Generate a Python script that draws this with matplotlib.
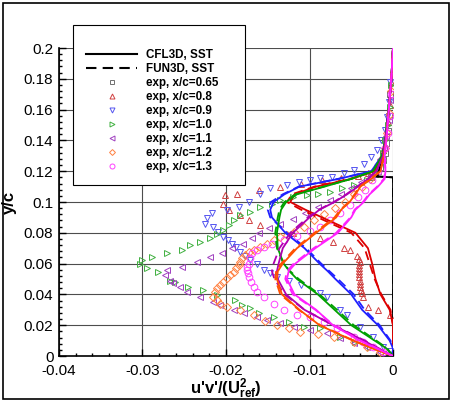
import matplotlib
matplotlib.use("Agg")
import matplotlib.pyplot as plt
from matplotlib.patches import Rectangle
from matplotlib.ticker import MultipleLocator

plt.rcParams['font.family'] = ['Liberation Sans', 'DejaVu Sans']
plt.rcParams['mathtext.fontset'] = 'custom'
plt.rcParams['mathtext.rm'] = 'Liberation Sans:bold'
plt.rcParams['mathtext.it'] = 'Liberation Sans:bold'
plt.rcParams['mathtext.bf'] = 'Liberation Sans:bold'

# ---- computed profiles (shared y stations) ----
y_line = [0, 0.005, 0.01, 0.02, 0.03, 0.04, 0.05, 0.055, 0.06, 0.07, 0.08, 0.09,
          0.095, 0.10, 0.105, 0.11, 0.115, 0.12, 0.13, 0.14, 0.16, 0.18, 0.2]

y_black = [0, 0.1160, 0.1166, 0.12, 0.13, 0.14, 0.16, 0.18, 0.2]
cfl_065 = [0, 0, -0.0020, -0.0017, -0.0012, -0.0009, -0.0005, -0.0002, 0]
fun_065 = [0, 0, -0.0019, -0.0016, -0.0012, -0.0009, -0.0005, -0.0002, 0]

cfl_08 = [0, 0, 0, 0, -0.0004, -0.0015, -0.0021, -0.0023, -0.0025, -0.0030, -0.0045, -0.0085,
          -0.0105, -0.0123, -0.0118, -0.0092, -0.0050, -0.0022, -0.0013, -0.0009, -0.0005, -0.0002, 0]
fun_08 = [0, 0, 0, 0, -0.0003, -0.0014, -0.0022, -0.0025, -0.0028, -0.0034, -0.0050, -0.0090,
          -0.0110, -0.0127, -0.0121, -0.0094, -0.0052, -0.0023, -0.0013, -0.0009, -0.0005, -0.0002, 0]
cfl_09 = [0, 0, -0.0004, -0.0018, -0.0037, -0.0050, -0.0069, -0.0078, -0.0088, -0.0106, -0.0129, -0.0145,
          -0.0147, -0.0143, -0.0130, -0.0112, -0.0065, -0.0026, -0.0013, -0.0009, -0.0005, -0.0002, 0]
fun_09 = [0, 0, -0.0003, -0.0016, -0.0034, -0.0047, -0.0066, -0.0076, -0.0086, -0.0104, -0.0127, -0.0147,
          -0.0150, -0.0146, -0.0132, -0.0113, -0.0066, -0.0026, -0.0013, -0.0009, -0.0005, -0.0002, 0]
cfl_10 = [0, -0.0008, -0.0022, -0.0050, -0.0070, -0.0090, -0.0115, -0.0124, -0.0131, -0.0138, -0.0139, -0.0136,
          -0.0134, -0.0128, -0.0115, -0.0082, -0.0050, -0.0024, -0.0013, -0.0009, -0.0005, -0.0002, 0]
fun_10 = [0, -0.0007, -0.0020, -0.0047, -0.0067, -0.0088, -0.0113, -0.0123, -0.0131, -0.0139, -0.0141, -0.0138,
          -0.0136, -0.0130, -0.0117, -0.0083, -0.0050, -0.0024, -0.0013, -0.0009, -0.0005, -0.0002, 0]
cfl_11 = [0, -0.0018, -0.0035, -0.0072, -0.0106, -0.0128, -0.0138, -0.0139, -0.0137, -0.0132, -0.0120, -0.0100,
          -0.0088, -0.0070, -0.0055, -0.0042, -0.0030, -0.0020, -0.0012, -0.0009, -0.0005, -0.0002, 0]
fun_11 = [0, -0.0017, -0.0034, -0.0071, -0.0106, -0.0130, -0.0142, -0.0145, -0.0143, -0.0136, -0.0123, -0.0102,
          -0.0089, -0.0071, -0.0056, -0.0043, -0.0030, -0.0020, -0.0012, -0.0009, -0.0005, -0.0002, 0]
cfl_12 = [0, -0.0025, -0.0048, -0.0088, -0.0112, -0.0133, -0.0139, -0.0138, -0.0132, -0.0115, -0.0092, -0.0068,
          -0.0062, -0.0052, -0.0045, -0.0039, -0.0026, -0.0015, -0.0011, -0.0008, -0.0005, -0.0002, 0]
fun_12 = [0, -0.0024, -0.0047, -0.0087, -0.0113, -0.0135, -0.0141, -0.0140, -0.0134, -0.0117, -0.0094, -0.0070,
          -0.0063, -0.0053, -0.0046, -0.0040, -0.0027, -0.0015, -0.0011, -0.0008, -0.0005, -0.0002, 0]
cfl_13 = [0, -0.0020, -0.0040, -0.0072, -0.0092, -0.0118, -0.0127, -0.0125, -0.0117, -0.0093, -0.0066, -0.0050,
          -0.0045, -0.0035, -0.0028, -0.0018, -0.0010, -0.0009, -0.0010, -0.0008, -0.0005, -0.0002, 0]
fun_13 = [0, -0.0019, -0.0039, -0.0071, -0.0093, -0.0120, -0.0129, -0.0127, -0.0119, -0.0095, -0.0068, -0.0051,
          -0.0046, -0.0036, -0.0029, -0.0019, -0.0011, -0.0009, -0.0010, -0.0008, -0.0005, -0.0002, 0]

# ---- experiment ----
exp065_x = [-0.0026, -0.0022, -0.0018, -0.0015, -0.0012, -0.0010, -0.0008, -0.0006, -0.0005, -0.0003]
exp065_y = [0.116, 0.118, 0.120, 0.123, 0.127, 0.132, 0.138, 0.146, 0.156, 0.170]

exp08_x = [-0.0004, -0.0018, -0.0030, -0.0036, -0.0037, -0.0038, -0.0039, -0.0040, -0.0040, -0.0041,
           -0.0041, -0.0041, -0.0041, -0.0041, -0.0040, -0.0041, -0.0043, -0.0051, -0.0059, -0.0072,
           -0.0087, -0.0120, -0.0159, -0.0173, -0.0183, -0.0197, -0.0203, -0.0201, -0.0187, -0.0161,
           -0.0135, -0.0110, -0.0085, -0.0062, -0.0042, -0.0030, -0.0022, -0.0016, -0.0012, -0.0009,
           -0.0006, -0.0004, -0.0002]
exp08_y = [0.0266, 0.030, 0.032, 0.0385, 0.041, 0.043, 0.045, 0.047, 0.049, 0.051,
           0.053, 0.055, 0.057, 0.059, 0.061, 0.063, 0.065, 0.0688, 0.070, 0.074,
           0.0764, 0.080, 0.085, 0.088, 0.0915, 0.0948, 0.099, 0.1045, 0.1055, 0.1077,
           0.110, 0.112, 0.114, 0.1155, 0.117, 0.119, 0.123, 0.128, 0.134, 0.142,
           0.152, 0.163, 0.178]

exp09_x = [-0.0004, -0.0012, -0.0024, -0.0039, -0.0055, -0.0063, -0.0079, -0.0087, -0.0110, -0.0125,
           -0.0139, -0.0147, -0.0155, -0.0163, -0.0171, -0.0177, -0.0183, -0.0188, -0.0193, -0.0198,
           -0.0203, -0.0209, -0.0215, -0.0225, -0.0223, -0.0217, -0.0199, -0.0185, -0.0173, -0.0159,
           -0.0147, -0.0127, -0.0113, -0.0100, -0.0087, -0.0073, -0.0059, -0.0047, -0.0035, -0.0026,
           -0.0019, -0.0014, -0.0010, -0.0007, -0.0005, -0.0003]
exp09_y = [0.003, 0.006, 0.0125, 0.019, 0.0266, 0.030, 0.0385, 0.0407, 0.046, 0.049,
           0.0515, 0.0537, 0.0558, 0.060, 0.0623, 0.065, 0.0677, 0.0705, 0.073, 0.0753,
           0.0775, 0.0807, 0.084, 0.086, 0.0893, 0.0926, 0.0948, 0.097, 0.100, 0.1055,
           0.1088, 0.111, 0.1131, 0.1142, 0.1153, 0.1164, 0.1186, 0.1207, 0.125, 0.129,
           0.134, 0.140, 0.147, 0.155, 0.165, 0.178]

exp10_x = [-0.0012, -0.0028, -0.0045, -0.0063, -0.0087, -0.0107, -0.0125, -0.0143, -0.0160, -0.0171,
           -0.0181, -0.0189, -0.0211, -0.0227, -0.0245, -0.0261, -0.0267, -0.0281, -0.0295, -0.0303,
           -0.0301, -0.0289, -0.0271, -0.0253, -0.0243, -0.0231, -0.0219, -0.0211, -0.0203, -0.0197,
           -0.0191, -0.0183, -0.0171, -0.0159, -0.0145, -0.0135, -0.0120, -0.0103, -0.0090, -0.0075,
           -0.0061, -0.0047, -0.0031, -0.0022, -0.0016, -0.0012, -0.0009, -0.0006, -0.0004, -0.0002]
exp10_y = [0.0028, 0.006, 0.009, 0.0125, 0.0179, 0.019, 0.022, 0.0255, 0.028, 0.031,
           0.033, 0.0363, 0.0396, 0.0428, 0.045, 0.0482, 0.049, 0.0547, 0.0569, 0.060,
           0.0623, 0.0645, 0.0666, 0.0688, 0.072, 0.074, 0.0764, 0.079, 0.0818, 0.085,
           0.088, 0.0915, 0.0937, 0.097, 0.099, 0.101, 0.103, 0.1045, 0.1055, 0.1066,
           0.109, 0.111, 0.114, 0.119, 0.125, 0.132, 0.140, 0.150, 0.162, 0.176]

exp11_x = [-0.0016, -0.0031, -0.0047, -0.0063, -0.0079, -0.0099, -0.0119, -0.0135, -0.0151, -0.0163,
           -0.0179, -0.0191, -0.0207, -0.0215, -0.0231, -0.0247, -0.0255, -0.0263, -0.0267, -0.0273,
           -0.0271, -0.0253, -0.0235, -0.0219, -0.0205, -0.0193, -0.0180, -0.0169, -0.0160, -0.0148,
           -0.0135, -0.0120, -0.0105, -0.0090, -0.0075, -0.0062, -0.0050, -0.0038, -0.0028, -0.0020,
           -0.0015, -0.0011, -0.0008, -0.0005, -0.0003]
exp11_y = [0.0028, 0.006, 0.0082, 0.0115, 0.0147, 0.0169, 0.019, 0.0212, 0.0234, 0.0255,
           0.0277, 0.0298, 0.0331, 0.0352, 0.0385, 0.0417, 0.045, 0.0472, 0.049, 0.0526,
           0.0558, 0.058, 0.0612, 0.0645, 0.0666, 0.070, 0.0725, 0.0764, 0.080, 0.083,
           0.086, 0.089, 0.093, 0.097, 0.101, 0.105, 0.109, 0.113, 0.117, 0.122,
           0.128, 0.135, 0.143, 0.153, 0.166]

exp12_x = [-0.0016, -0.0031, -0.0047, -0.0071, -0.0090, -0.0111, -0.0125, -0.0139, -0.0153, -0.0167,
           -0.0183, -0.0199, -0.0207, -0.0211, -0.0215, -0.0213, -0.0211, -0.0207, -0.0203, -0.0199,
           -0.0195, -0.0191, -0.0188, -0.0185, -0.0183, -0.0181, -0.0177, -0.0173, -0.0166, -0.0159,
           -0.0151, -0.0143, -0.0135, -0.0127, -0.0119, -0.0107, -0.0095, -0.0083, -0.0070, -0.0058,
           -0.0047, -0.0037, -0.0028, -0.0020, -0.0014, -0.0010, -0.0007, -0.0004, -0.0002]
exp12_y = [0.0028, 0.006, 0.0093, 0.0125, 0.014, 0.0158, 0.018, 0.0201, 0.023, 0.0266,
           0.0298, 0.032, 0.034, 0.0363, 0.0385, 0.0417, 0.0439, 0.0461, 0.048, 0.0504,
           0.0525, 0.0547, 0.057, 0.059, 0.061, 0.0634, 0.0655, 0.0677, 0.069, 0.071,
           0.073, 0.0753, 0.077, 0.0785, 0.0807, 0.084, 0.088, 0.092, 0.096, 0.100,
           0.105, 0.110, 0.115, 0.120, 0.127, 0.135, 0.145, 0.157, 0.172]

exp13_x = [-0.0012, -0.0024, -0.0036, -0.0047, -0.0067, -0.0083, -0.0099, -0.0115, -0.0131, -0.0143,
           -0.0155, -0.0163, -0.0167, -0.0170, -0.0172, -0.0174, -0.0175, -0.0175, -0.0173, -0.0171,
           -0.0169, -0.0163, -0.0155, -0.0145, -0.0130, -0.0115, -0.0100, -0.0087, -0.0075, -0.0063,
           -0.0052, -0.0042, -0.0033, -0.0025, -0.0018, -0.0013, -0.0009, -0.0006, -0.0004, -0.0002]
exp13_y = [0.0028, 0.006, 0.0093, 0.0125, 0.0179, 0.0223, 0.0255, 0.0266, 0.030, 0.034,
           0.0385, 0.0417, 0.045, 0.0482, 0.051, 0.0537, 0.056, 0.058, 0.060, 0.0634,
           0.0666, 0.0688, 0.071, 0.073, 0.0755, 0.078, 0.081, 0.084, 0.088, 0.093,
           0.098, 0.103, 0.108, 0.114, 0.120, 0.127, 0.135, 0.145, 0.156, 0.170]

stations = ['0.65', '0.8', '0.9', '1.0', '1.1', '1.2', '1.3']
line_colors = ['black', '#dd0000', '#2020ff', '#00a000', '#b000b0', '#ff5000', '#ff20ff']
mark_colors = ['#707070', '#d04040', '#5555f0', '#40b040', '#a040c0', '#ff8040', '#ff40ff']
markers = ['s', '^', 'v', '>', '<', 'D', 'o']


def draw_exp(ax, xs, ys, i):
	ax.plot(xs, ys, linestyle='none', marker=markers[i], ms=4.8 if markers[i] != 'D' else 4.0,
		mfc='none', mec=mark_colors[i], mew=0.7, zorder=3,
		label='exp, x/c=' + stations[i])


def draw_cfd(ax, ys, cfl, fun, i):
	ax.plot(cfl, ys, '-', color=line_colors[i], lw=1.3, zorder=4)
	ax.plot(fun, ys, '--', color=line_colors[i], lw=1.3, dashes=(5, 3), zorder=4)


fig = plt.figure(figsize=(4.5, 4.01), dpi=100)
ax = fig.add_axes([59 / 450, 1 - 356 / 401, (393 - 59) / 450, (356 - 48) / 401])

# legend proxies for the two codes
l1, = ax.plot([], [], '-', color='black', lw=1.5, label='CFL3D, SST')
l2, = ax.plot([], [], '--', color='black', lw=1.5, dashes=(5, 3), label='FUN3D, SST')

exp_data = [(exp065_x, exp065_y), (exp08_x, exp08_y), (exp09_x, exp09_y), (exp10_x, exp10_y),
            (exp11_x, exp11_y), (exp12_x, exp12_y), (exp13_x, exp13_y)]
for i, (xs, ys) in enumerate(exp_data):
	draw_exp(ax, xs, ys, i)

draw_cfd(ax, y_black, cfl_065, fun_065, 0)
cfd_data = [(cfl_08, fun_08), (cfl_09, fun_09), (cfl_10, fun_10), (cfl_11, fun_11),
            (cfl_12, fun_12), (cfl_13, fun_13)]
for i, (cfl, fun) in enumerate(cfd_data):
	draw_cfd(ax, y_line, cfl, fun, i + 1)

ax.set_xlim(-0.04, 0)
ax.set_ylim(0, 0.2)
ax.xaxis.set_major_locator(MultipleLocator(0.01))
ax.xaxis.set_minor_locator(MultipleLocator(0.002))
ax.yaxis.set_major_locator(MultipleLocator(0.02))
ax.yaxis.set_minor_locator(MultipleLocator(0.004))
fmt = plt.FuncFormatter(lambda v, p: '0' if abs(v) < 1e-9 else '%g' % v)
ax.xaxis.set_major_formatter(fmt)
ax.yaxis.set_major_formatter(fmt)
ax.tick_params(which='both', direction='in', top=False, right=False, labelsize=11, width=1)
ax.tick_params(which='major', length=5)
ax.tick_params(axis='x', which='major', pad=6)
ax.tick_params(axis='y', which='major', pad=4)
ax.tick_params(which='minor', length=2.5)
for s in ['top', 'right']:
	ax.spines[s].set_visible(False)
for s in ['left', 'bottom']:
	ax.spines[s].set_linewidth(1.2)
ax.grid(True, which='major', color='0.3', lw=0.8)
ax.set_axisbelow(True)

ax.set_xlabel(r"u'v'/(U$_{ref}^{2}$)", fontsize=12, fontweight='bold', labelpad=-1)
ax.set_ylabel('y/c', fontsize=12, fontweight='bold', labelpad=5)

# legend box drawn separately, entries placed inside it
fig.patches.append(Rectangle((73 / 450, 1 - 185 / 401), 172 / 450, 160 / 401,
	transform=fig.transFigure, facecolor='white', edgecolor='black', lw=0.8, zorder=9))
handles = [l1, l2] + [h for h in ax.get_lines() if h.get_label().startswith('exp')]
leg = fig.legend(handles=handles, loc='upper left', bbox_to_anchor=(86 / 450, 1 - 49 / 401),
	frameon=False, borderaxespad=0, borderpad=0, handlelength=4.4, handletextpad=0.72,
	labelspacing=0.17, markerscale=0.75, prop={'size': 8.4, 'weight': 'bold'})
leg.set_zorder(11)

fig.patches.append(Rectangle((3 / 450, 2 / 401), 445.5 / 450, 396 / 401, transform=fig.transFigure,
	fill=False, edgecolor='black', lw=1.2))

fig.savefig('out.png', dpi=100)
